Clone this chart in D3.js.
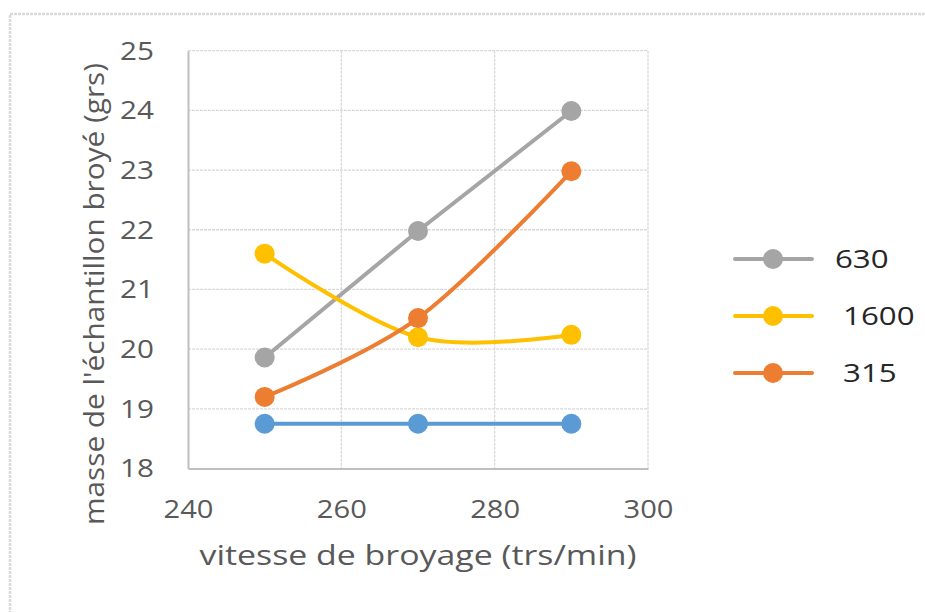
<!DOCTYPE html>
<html><head><meta charset="utf-8">
<script src="https://cdn.jsdelivr.net/npm/d3@7"></script>
<style>
body{margin:0;background:#fff;}
text{font-family:"Open Sans",sans-serif;white-space:pre;}
</style></head>
<body><svg id="c" width="925" height="612"></svg>
<script>
// ---- data ----
const speeds = [250, 270, 290];
const seriesNames = ["", "630", " 1600", " 315"];
const seriesColors = ["#5b9bd5", "#a5a5a5", "#ffc000", "#ed7d31"];
const blueValues = [18.75, 18.75, 18.75];
const v630 = [19.86, 21.98, 23.99];
const v1600 = [21.6, 20.2, 20.24];
const v315 = [19.2, 20.52, 22.98];
const smooth = [false, false, true, true];
const inLegend = [false, true, true, true];
const xTicks = [240, 260, 280, 300];
const yTicks = [18, 19, 20, 21, 22, 23, 24, 25];
const xTitle = "vitesse de broyage (trs/min)";
const yTitle = "masse de l'échantillon broyé (grs)";

const allValues = [blueValues, v630, v1600, v315];
const series = allValues.map((vals, i) => ({
  name: seriesNames[i], color: seriesColors[i], smooth: smooth[i], legend: inLegend[i],
  points: speeds.map((s, j) => ({x: s, y: vals[j]}))
}));

const svg = d3.select("#c");
// outer border
svg.append("rect").attr("x", 10).attr("y", 14).attr("width", 940).attr("height", 640)
  .attr("fill", "none").attr("stroke", "#d9d9d9").attr("stroke-width", 2.5).attr("stroke-dasharray", "3,1");

const L = 188, R = 648, T = 50.7, B = 468.5;
const x = d3.scaleLinear().domain([240, 300]).range([L, R]);
const y = d3.scaleLinear().domain([18, 25]).range([B, T]);

function stretch(sel, k) {
  sel.each(function () {
    const len = this.getComputedTextLength();
    d3.select(this).attr("textLength", len * k).attr("lengthAdjust", "spacingAndGlyphs");
  });
}

// gridlines
const g = svg.append("g");
g.selectAll("line.h").data(yTicks.filter(t => t > 18)).join("line")
  .attr("x1", L).attr("x2", R).attr("y1", d => y(d)).attr("y2", d => y(d))
  .attr("stroke", "#d9d9d9").attr("stroke-width", 1.3).attr("stroke-dasharray", "3,1");
g.selectAll("line.v").data(xTicks.filter(t => t > 240)).join("line")
  .attr("y1", T).attr("y2", B).attr("x1", d => x(d)).attr("x2", d => x(d))
  .attr("stroke", "#d9d9d9").attr("stroke-width", 1.3).attr("stroke-dasharray", "3,1");

// axes
const xAxis = svg.append("g").attr("transform", `translate(0,${B})`)
  .call(d3.axisBottom(x).tickValues(xTicks).tickFormat(d3.format("d")).tickSize(0).tickPadding(31));
const yAxis = svg.append("g").attr("transform", `translate(${L},0)`)
  .call(d3.axisLeft(y).tickValues(yTicks).tickFormat(d3.format("d")).tickSize(0).tickPadding(34));
[xAxis, yAxis].forEach(a => {
  a.select(".domain").attr("stroke", "#bfbfbf").attr("stroke-width", 2);
  a.selectAll("text").attr("font-size", 26).attr("fill", "#595959").attr("font-family", "Open Sans");
});
stretch(xAxis.selectAll("text"), 1.12);
stretch(yAxis.selectAll("text"), 1.14);

// titles
svg.append("text").attr("x", (L + R) / 2).attr("y", 565).attr("text-anchor", "middle")
  .attr("font-size", 27).attr("fill", "#595959").text(xTitle)
  .attr("textLength", 437).attr("lengthAdjust", "spacingAndGlyphs");
svg.append("text").attr("transform", "translate(104,294) rotate(-90)").attr("text-anchor", "middle")
  .attr("font-size", 27).attr("fill", "#595959").text(yTitle)
  .attr("textLength", 462).attr("lengthAdjust", "spacingAndGlyphs");

// series
series.forEach(s => {
  const line = d3.line().x(d => x(d.x)).y(d => y(d.y))
    .curve(s.smooth ? d3.curveCardinal.tension(0) : d3.curveLinear);
  svg.append("path").datum(s.points).attr("d", line).attr("fill", "none")
    .attr("stroke", s.color).attr("stroke-width", 4).attr("stroke-linecap", "round");
  svg.append("g").selectAll("circle").data(s.points).join("circle")
    .attr("cx", d => x(d.x)).attr("cy", d => y(d.y)).attr("r", 10).attr("fill", s.color);
});

// legend
const legSeries = series.filter(s => s.legend);
const lg = svg.append("g").selectAll("g").data(legSeries).join("g")
  .attr("transform", (d, i) => `translate(0,${259 + i * 57})`);
lg.append("line").attr("x1", 735).attr("x2", 812).attr("y1", 0).attr("y2", 0)
  .attr("stroke", d => d.color).attr("stroke-width", 4).attr("stroke-linecap", "round");
lg.append("circle").attr("cx", 773).attr("cy", 0).attr("r", 10).attr("fill", d => d.color);
const lt = lg.append("text").attr("x", 835).attr("y", 9).attr("font-size", 25).attr("fill", "#262626")
  .text(d => d.name);
stretch(lt, 1.25);
</script></body></html>
